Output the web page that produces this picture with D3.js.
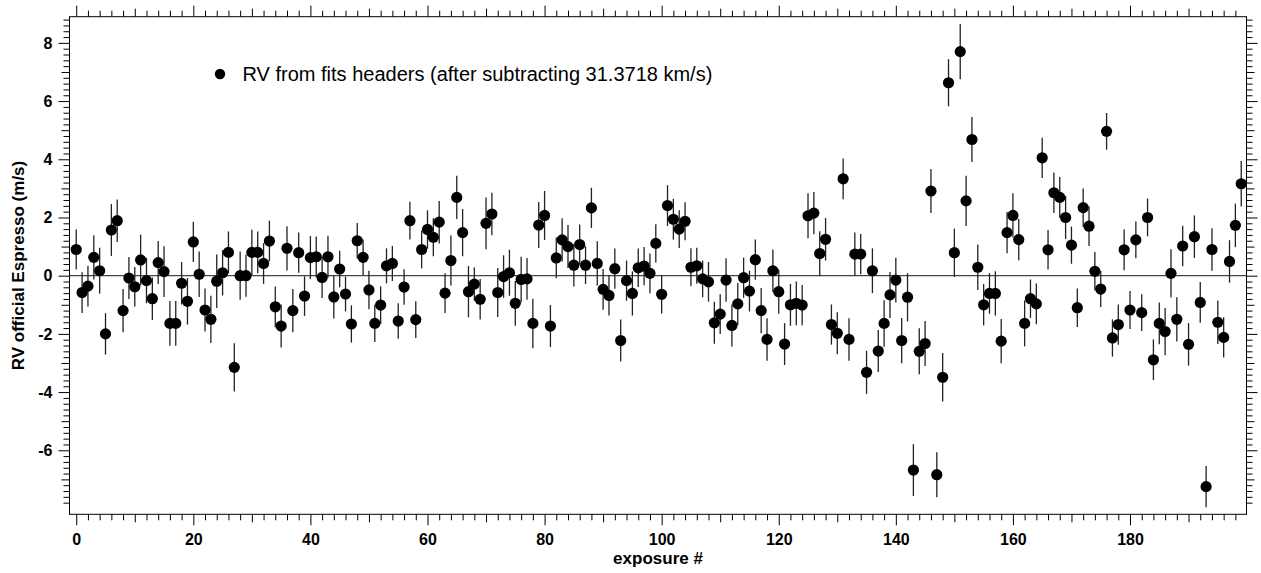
<!DOCTYPE html>
<html><head><meta charset="utf-8">
<script src="https://cdn.jsdelivr.net/npm/d3@7"></script>
<style>body{margin:0;background:#fff} svg{display:block}</style>
</head><body>
<svg id="chart" width="1261" height="573"></svg>
<script>
// RV per exposure (m/s)
const rvValues = [
 0.90,-0.58,-0.36,0.63,0.17,-2.00,1.57,1.89,-1.20,-0.08,
 -0.38,0.54,-0.17,-0.79,0.45,0.14,-1.64,-1.64,-0.26,-0.88,
 1.16,0.05,-1.18,-1.50,-0.19,0.10,0.80,-3.15,0.00,0.00,
 0.80,0.80,0.42,1.19,-1.07,-1.73,0.94,-1.20,0.79,-0.70,
 0.62,0.65,-0.06,0.65,-0.73,0.23,-0.63,-1.66,1.20,0.63,
 -0.49,-1.64,-1.01,0.34,0.42,-1.56,-0.39,1.89,-1.51,0.90,
 1.59,1.32,1.84,-0.60,0.52,2.69,1.48,-0.55,-0.29,-0.81,
 1.80,2.12,-0.58,-0.03,0.10,-0.95,-0.13,-0.11,-1.64,1.74,
 2.07,-1.73,0.61,1.23,1.00,0.36,1.07,0.36,2.33,0.42,
 -0.47,-0.68,0.24,-2.23,-0.17,-0.61,0.27,0.33,0.08,1.11,
 -0.64,2.41,1.94,1.60,1.87,0.29,0.34,-0.11,-0.21,-1.62,
 -1.32,-0.15,-1.71,-0.97,-0.07,-0.53,0.55,-1.20,-2.19,0.17,
 -0.55,-2.35,-1.00,-0.95,-1.01,2.06,2.15,0.76,1.25,-1.68,
 -1.98,3.33,-2.19,0.74,0.74,-3.32,0.17,-2.59,-1.64,-0.66,
 -0.15,-2.23,-0.74,-6.68,-2.60,-2.33,2.91,-6.84,-3.49,6.63,
 0.79,7.70,2.57,4.68,0.29,-1.00,-0.61,-0.61,-2.25,1.48,
 2.07,1.24,-1.64,-0.79,-0.97,4.05,0.89,2.85,2.69,2.00,
 1.05,-1.10,2.34,1.70,0.15,-0.46,4.96,-2.14,-1.68,0.89,
 -1.18,1.23,-1.27,2.00,-2.89,-1.64,-1.92,0.08,-1.50,1.02,
 -2.36,1.34,-0.92,-7.25,0.90,-1.60,-2.12,0.49,1.73,3.16
];
// 1-sigma errors (m/s)
const rvErrors = [
 0.69,0.70,0.70,0.76,0.79,0.71,0.89,0.73,0.74,0.72,
 0.68,0.87,0.78,0.73,0.74,0.87,0.77,0.77,0.73,0.80,
 0.69,0.78,0.74,0.81,0.92,0.78,0.72,0.83,0.83,0.72,
 0.78,0.72,0.70,0.70,0.70,0.74,0.76,0.74,0.69,0.68,
 0.74,0.70,0.71,0.72,0.74,0.63,0.60,0.64,0.61,0.61,
 0.66,0.64,0.65,0.60,0.60,0.61,0.61,0.65,0.63,0.65,
 0.66,0.65,0.73,0.68,0.86,0.74,0.81,0.88,0.57,0.70,
 0.89,0.73,0.84,0.73,0.79,0.77,0.78,0.72,0.85,0.79,
 0.84,0.72,0.70,0.74,0.74,0.73,0.69,0.65,0.69,0.76,
 0.70,0.69,0.69,0.72,0.69,0.76,0.66,0.66,0.68,0.66,
 0.66,0.70,0.70,0.65,0.65,0.65,0.62,0.63,0.68,0.72,
 0.68,0.75,0.72,0.73,0.69,0.70,0.69,0.78,0.73,0.73,
 0.76,0.72,0.72,0.75,0.69,0.77,0.73,0.77,0.73,0.69,
 0.72,0.70,0.73,0.74,0.69,0.74,0.77,0.72,0.80,0.79,
 0.77,0.78,0.83,0.89,0.79,0.77,0.76,0.77,0.83,0.81,
 0.83,0.95,0.86,0.77,0.78,0.71,0.70,0.76,0.76,0.71,
 0.76,0.71,0.79,0.66,0.70,0.69,0.68,0.70,0.70,0.74,
 0.64,0.66,0.66,0.68,0.66,0.62,0.63,0.64,0.69,0.70,
 0.65,0.63,0.63,0.65,0.70,0.72,0.81,0.83,0.76,0.70,
 0.73,0.73,0.70,0.71,0.73,0.75,0.69,0.73,0.75,0.78
];
const xTickLabels = [0,20,40,60,80,100,120,140,160,180];
const yTickLabels = [-6,-4,-2,0,2,4,6,8];
const legendLabel = "RV from fits headers (after subtracting 31.3718 km/s)";
const xTitle = "exposure #";
const yTitle = "RV official Espresso (m/s)";

const FONT = "'Liberation Sans', Arial, Helvetica, sans-serif";
const svg = d3.select("#chart");
const X0 = 69.5, X1 = 1246.5, Y0 = 16.7, Y1 = 514.3;
const x = d3.scaleLinear().domain([-1.15, 199.9]).range([X0, X1]);
const y = d3.scaleLinear().domain([-8.2, 8.9]).range([Y1, Y0]);

const data = rvValues.map((v, i) => ({exp: i, rv: v, err: rvErrors[i]}));

// tick value sets
const xMinor = d3.range(0, 200, 2).filter(v => v % 10 !== 0);
const xMed = d3.range(10, 200, 20);
const yMinor = d3.range(-39, 45).map(k => k / 5).filter(v => Math.abs(v - Math.round(v)) > 1e-6);
const yMed = [-7, -5, -3, -1, 1, 3, 5, 7];
const plainFmt = d => String(d); // ASCII hyphen for negatives, as in the reference

function addAxis(axisFn, scale, values, size, tr, labels) {
  const ax = axisFn(scale).tickValues(values).tickSizeInner(size).tickSizeOuter(0);
  ax.tickFormat(labels ? plainFmt : "");
  const g = svg.append("g").attr("transform", tr).call(ax);
  g.select(".domain").remove();
  g.selectAll(".tick line").attr("stroke", "#000").attr("stroke-width", 1);
  return g;
}
// bottom
addAxis(d3.axisBottom, x, xMinor, 6, `translate(0,${Y1})`, false);
addAxis(d3.axisBottom, x, xMed, 8, `translate(0,${Y1})`, false);
const gxb = addAxis(d3.axisBottom, x, xTickLabels, 11, `translate(0,${Y1})`, true);
gxb.selectAll("text").attr("y", 19).attr("dy", "0.71em")
  .attr("font-family", FONT).attr("font-size", 16).attr("font-weight", "bold").attr("fill", "#000");
gxb.attr("font-size", null).attr("font-family", null);
// top
addAxis(d3.axisTop, x, xMinor, 6, `translate(0,${Y0})`, false);
addAxis(d3.axisTop, x, xMed, 8, `translate(0,${Y0})`, false);
addAxis(d3.axisTop, x, xTickLabels, 11, `translate(0,${Y0})`, false);
// left
addAxis(d3.axisLeft, y, yMinor, 6, `translate(${X0},0)`, false);
addAxis(d3.axisLeft, y, yMed, 8, `translate(${X0},0)`, false);
const gyl = addAxis(d3.axisLeft, y, yTickLabels, 11, `translate(${X0},0)`, true);
gyl.selectAll("text").attr("x", -17).attr("dy", "0.32em")
  .attr("font-family", FONT).attr("font-size", 16).attr("font-weight", "bold").attr("fill", "#000");
gyl.attr("font-size", null).attr("font-family", null);
// right
addAxis(d3.axisRight, y, yMinor, 6, `translate(${X1},0)`, false);
addAxis(d3.axisRight, y, yMed, 8, `translate(${X1},0)`, false);
addAxis(d3.axisRight, y, yTickLabels, 11, `translate(${X1},0)`, false);

// frame
svg.append("rect").attr("x", X0).attr("y", Y0).attr("width", X1 - X0).attr("height", Y1 - Y0)
  .attr("fill", "none").attr("stroke", "#000").attr("stroke-width", 1);

// zero line
svg.append("line").attr("x1", X0).attr("x2", X1).attr("y1", y(0)).attr("y2", y(0))
  .attr("stroke", "#444").attr("stroke-width", 1.2);

// error bars
svg.append("g").selectAll("line").data(data).join("line")
  .attr("x1", d => x(d.exp)).attr("x2", d => x(d.exp))
  .attr("y1", d => y(d.rv - d.err)).attr("y2", d => y(d.rv + d.err))
  .attr("stroke", "#222").attr("stroke-width", 1.3);

// markers
svg.append("g").selectAll("circle").data(data).join("circle")
  .attr("cx", d => x(d.exp)).attr("cy", d => y(d.rv)).attr("r", 5.6).attr("fill", "#000");

// legend
svg.append("circle").attr("cx", 220).attr("cy", 74).attr("r", 5.2).attr("fill", "#000");
svg.append("text").attr("x", 242.5).attr("y", 81).text(legendLabel)
  .attr("font-family", FONT).attr("font-size", 20).attr("fill", "#000");

// axis titles
svg.append("text").attr("x", (X0 + X1) / 2).attr("y", 564).attr("text-anchor", "middle")
  .attr("font-family", FONT).attr("font-size", 17).attr("font-weight", "bold").text(xTitle);
svg.append("text").attr("transform", `translate(24,${(Y0 + Y1) / 2}) rotate(-90)`)
  .attr("text-anchor", "middle")
  .attr("font-family", FONT).attr("font-size", 17).attr("font-weight", "bold").text(yTitle);
</script>
</body></html>
